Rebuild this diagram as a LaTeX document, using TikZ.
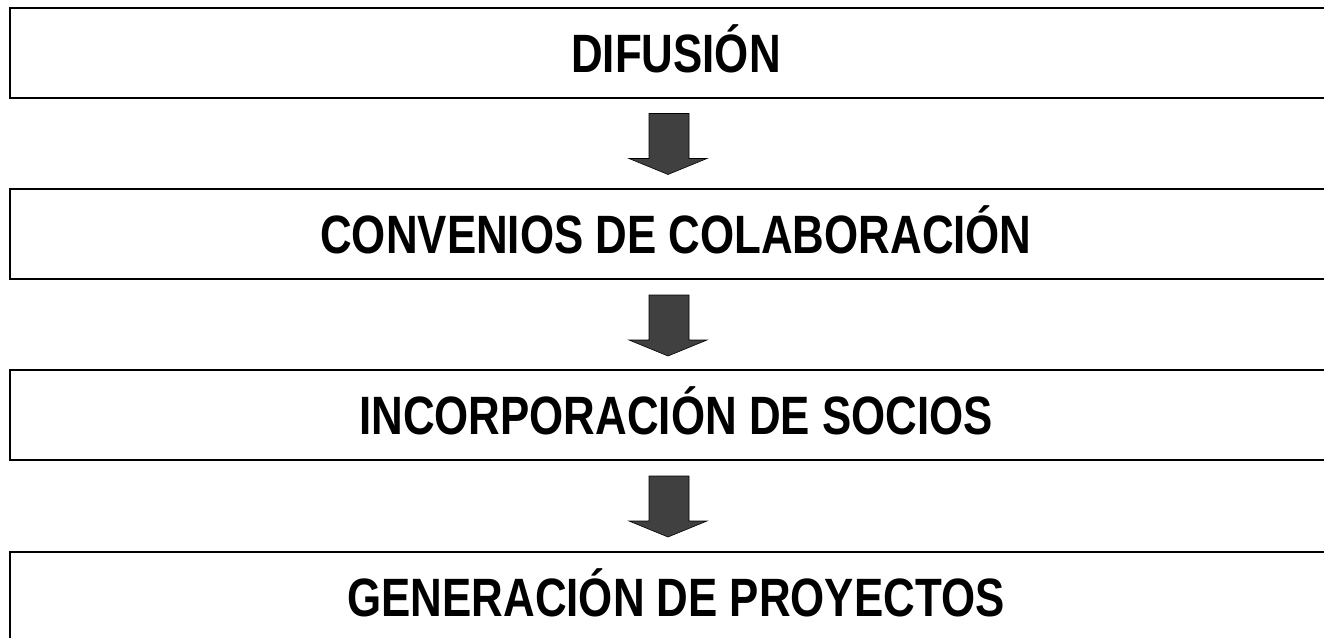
\documentclass[tikz,border=0pt]{standalone}
\usepackage{fontspec}
\setmainfont{Liberation Sans}[FakeStretch=0.812]
\usetikzlibrary{calc}
\definecolor{arrowgray}{HTML}{404040}
\tikzset{
  stagebox/.style={draw=black, line width=2pt, fill=white, minimum width=1332pt, minimum height=90pt,
    inner sep=0pt, text height=39pt, text depth=0pt, font=\fontsize{54}{60}\selectfont\bfseries},
  blockarrow/.style={draw=black, line width=0.6pt, fill=arrowgray, line join=miter}
}
\begin{document}
\begin{tikzpicture}[x=1pt,y=1pt]
\useasboundingbox (0,0) rectangle (1324,-637);
\clip (0,0) rectangle (1324,-637);
\node[stagebox] (b1) at (676,-52.5) {DIFUSIÓN};
\node[stagebox] (b2) at (676,-234) {CONVENIOS DE COLABORACIÓN};
\node[stagebox] (b3) at (676,-415) {INCORPORACIÓN DE SOCIOS};
\node[stagebox] (b4) at (676,-597) {GENERACIÓN DE PROYECTOS};
\foreach \a/\b in {b1/b2,b2/b3,b3/b4}{
  \draw[blockarrow] ($(\a.south)+(-27,-15)$) -- ($(\a.south)+(13,-15)$) -- ($(\a.south)+(13,-60)$)
    -- ($(\a.south)+(31,-60)$) -- ($(\a.south)+(-8,-76)$) -- ($(\a.south)+(-47,-60)$)
    -- ($(\a.south)+(-27,-60)$) -- cycle;
}
\end{tikzpicture}
\end{document}
